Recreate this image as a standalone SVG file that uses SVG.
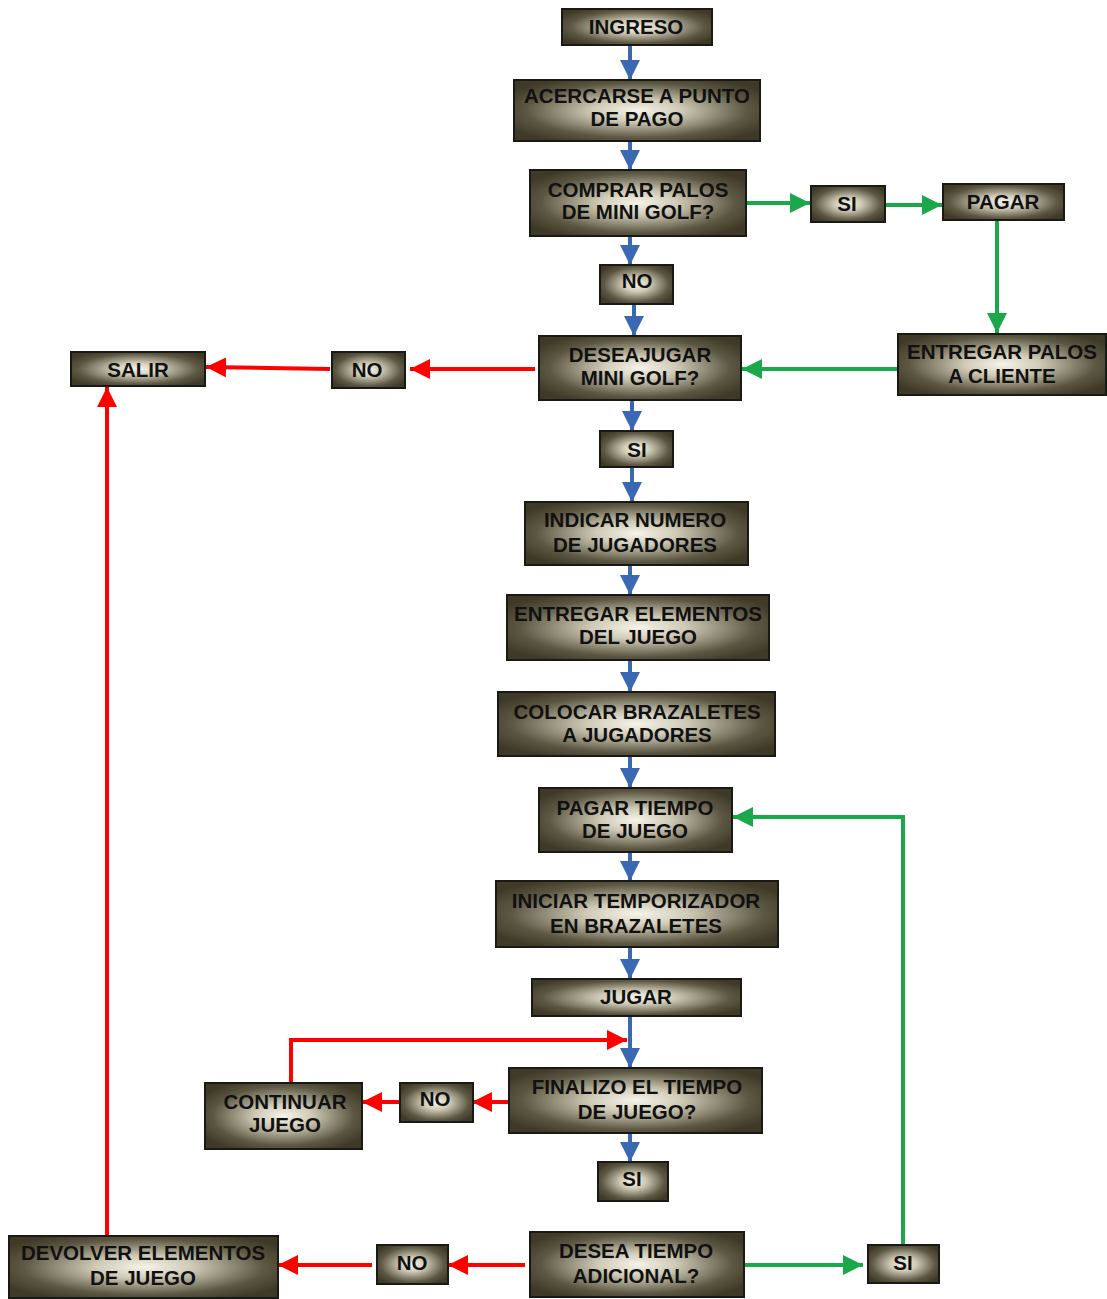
<svg xmlns="http://www.w3.org/2000/svg" width="1107" height="1299" viewBox="0 0 1107 1299">
<style>
.b{fill:url(#g);stroke:#1a1a14;stroke-width:2}
.t{font-family:"Liberation Sans",Arial,sans-serif;font-weight:bold;font-size:20.5px;fill:#111;text-anchor:middle}
.bl{stroke:#3a68b2;stroke-width:4;fill:none}
.gr{stroke:#1aa84a;stroke-width:4;fill:none}
.rd{stroke:#ff0000;stroke-width:4;fill:none}
</style>
<defs>
<radialGradient id="g" cx="0.5" cy="0.5" r="0.6">
<stop offset="0" stop-color="#f6f4ea"/>
<stop offset="0.3" stop-color="#cfcbb7"/>
<stop offset="0.75" stop-color="#5c5742"/>
<stop offset="1" stop-color="#3f3a27"/>
</radialGradient>
<marker id="ab" viewBox="0 0 10 10" refX="10" refY="5" markerWidth="5" markerHeight="5" orient="auto" markerUnits="strokeWidth"><path d="M0,0L10,5L0,10z" fill="#3a68b2"/></marker>
<marker id="ag" viewBox="0 0 10 10" refX="10" refY="5" markerWidth="5" markerHeight="5" orient="auto" markerUnits="strokeWidth"><path d="M0,0L10,5L0,10z" fill="#1aa84a"/></marker>
<marker id="ar" viewBox="0 0 10 10" refX="10" refY="5" markerWidth="5" markerHeight="5" orient="auto" markerUnits="strokeWidth"><path d="M0,0L10,5L0,10z" fill="#ff0000"/></marker>
</defs>
<g id="connectors">
<g class="bl" marker-end="url(#ab)">
<path d="M630,45V80"/>
<path d="M630,141V170"/>
<path d="M630,236V265"/>
<path d="M634,304V336"/>
<path d="M632,400V431"/>
<path d="M632,467V502"/>
<path d="M630,565V595"/>
<path d="M630,660V692"/>
<path d="M630,756V788"/>
<path d="M630,852V881"/>
<path d="M630,947V979"/>
<path d="M630,1016V1068"/>
<path d="M630,1133V1162"/>
</g>
<g class="gr" marker-end="url(#ag)">
<path d="M746,203H810"/>
<path d="M885,205H942"/>
<path d="M997,220V333"/>
<path d="M897,369H742"/>
<path d="M744,1265H863"/>
<path d="M903,1245V817H733"/>
</g>
<g class="rd" marker-end="url(#ar)">
<path d="M535,369H410"/>
<path d="M330,369L206,367"/>
<path d="M509,1102H472"/>
<path d="M399,1102H362"/>
<path d="M291,1083V1040H627"/>
<path d="M525,1265H448"/>
<path d="M372,1265H278"/>
<path d="M107,1236V387"/>
</g>
</g>
<g id="n1"><rect class="b" x="562" y="9" width="150" height="36"/><text class="t" x="636" y="34">INGRESO</text></g>
<g id="n2"><rect class="b" x="514" y="80" width="246" height="61"/><text class="t" x="637" y="103">ACERCARSE A PUNTO</text><text class="t" x="637" y="126">DE PAGO</text></g>
<g id="n3"><rect class="b" x="530" y="170" width="216" height="66"/><text class="t" x="638" y="197">COMPRAR PALOS</text><text class="t" x="638" y="219">DE MINI GOLF?</text></g>
<g id="n4"><rect class="b" x="811" y="186" width="74" height="36"/><text class="t" x="847" y="211">SI</text></g>
<g id="n5"><rect class="b" x="943" y="184" width="121" height="36"/><text class="t" x="1003" y="209">PAGAR</text></g>
<g id="n6"><rect class="b" x="600" y="265" width="73" height="39"/><text class="t" x="637" y="288">NO</text></g>
<g id="n7"><rect class="b" x="898" y="334" width="208" height="61"/><text class="t" x="1002" y="359">ENTREGAR PALOS</text><text class="t" x="1002" y="383">A CLIENTE</text></g>
<g id="n8"><rect class="b" x="539" y="336" width="202" height="64"/><text class="t" x="640" y="362">DESEAJUGAR</text><text class="t" x="640" y="385">MINI GOLF?</text></g>
<g id="n9"><rect class="b" x="332" y="352" width="73" height="36"/><text class="t" x="367" y="377">NO</text></g>
<g id="n10"><rect class="b" x="71" y="352" width="134" height="34"/><text class="t" x="138" y="377">SALIR</text></g>
<g id="n11"><rect class="b" x="600" y="431" width="73" height="36"/><text class="t" x="637" y="457">SI</text></g>
<g id="n12"><rect class="b" x="525" y="502" width="223" height="63"/><text class="t" x="635" y="527">INDICAR NUMERO</text><text class="t" x="635" y="552">DE JUGADORES</text></g>
<g id="n13"><rect class="b" x="507" y="595" width="262" height="65"/><text class="t" x="638" y="621">ENTREGAR ELEMENTOS</text><text class="t" x="638" y="644">DEL JUEGO</text></g>
<g id="n14"><rect class="b" x="498" y="692" width="277" height="64"/><text class="t" x="637" y="719">COLOCAR BRAZALETES</text><text class="t" x="637" y="742">A JUGADORES</text></g>
<g id="n15"><rect class="b" x="539" y="788" width="193" height="64"/><text class="t" x="635" y="815">PAGAR TIEMPO</text><text class="t" x="635" y="838">DE JUEGO</text></g>
<g id="n16"><rect class="b" x="496" y="881" width="282" height="66"/><text class="t" x="636" y="908">INICIAR TEMPORIZADOR</text><text class="t" x="636" y="933">EN BRAZALETES</text></g>
<g id="n17"><rect class="b" x="532" y="979" width="209" height="37"/><text class="t" x="636" y="1004">JUGAR</text></g>
<g id="n18"><rect class="b" x="509" y="1068" width="253" height="65"/><text class="t" x="637" y="1094">FINALIZO EL TIEMPO</text><text class="t" x="637" y="1119">DE JUEGO?</text></g>
<g id="n19"><rect class="b" x="400" y="1083" width="73" height="39"/><text class="t" x="435" y="1106">NO</text></g>
<g id="n20"><rect class="b" x="205" y="1083" width="157" height="66"/><text class="t" x="285" y="1109">CONTINUAR</text><text class="t" x="285" y="1132">JUEGO</text></g>
<g id="n21"><rect class="b" x="598" y="1162" width="70" height="39"/><text class="t" x="632" y="1186">SI</text></g>
<g id="n22"><rect class="b" x="530" y="1232" width="214" height="65"/><text class="t" x="636" y="1258">DESEA TIEMPO</text><text class="t" x="636" y="1283">ADICIONAL?</text></g>
<g id="n23"><rect class="b" x="377" y="1245" width="71" height="39"/><text class="t" x="412" y="1270">NO</text></g>
<g id="n24"><rect class="b" x="9" y="1236" width="269" height="62"/><text class="t" x="143" y="1260">DEVOLVER ELEMENTOS</text><text class="t" x="143" y="1285">DE JUEGO</text></g>
<g id="n25"><rect class="b" x="868" y="1245" width="71" height="38"/><text class="t" x="903" y="1270">SI</text></g>
</svg>
